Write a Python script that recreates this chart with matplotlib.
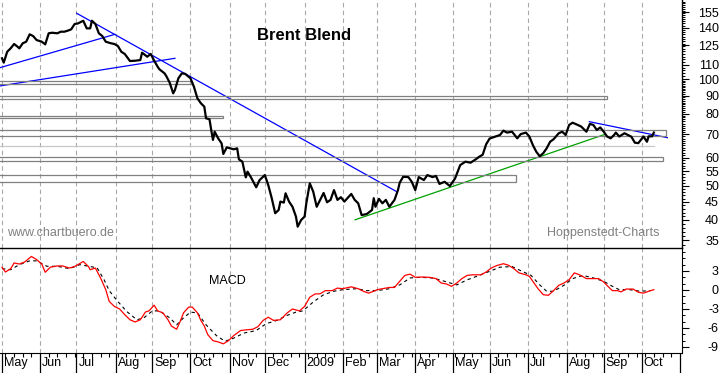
import numpy as np
import pandas as pd
import matplotlib
matplotlib.use("Agg")
import matplotlib.pyplot as plt
import matplotlib.transforms as mtransforms
from matplotlib.patches import Rectangle
from matplotlib.ticker import FixedLocator, NullFormatter, FuncFormatter

plt.rcParams['font.family'] = ['Liberation Sans', 'DejaVu Sans']

## trading day axis May 2008 - Oct 2009
days = pd.bdate_range('2008-05-01', '2009-10-30')
month_labels = ['May', 'Jun', 'Jul', 'Aug', 'Sep', 'Oct', 'Nov', 'Dec', '2009', 'Feb',
                'Mar', 'Apr', 'May', 'Jun', 'Jul', 'Aug', 'Sep', 'Oct']

## Brent price (USD), trading day index -> close
price_day = [0, 1, 3, 5, 7, 9, 10, 12, 14, 16, 18, 20, 23, 25, 27, 29, 32, 34, 36, 38,
             40, 42, 44, 47, 49, 51, 52, 54, 56, 58, 60, 63, 65, 67, 69, 71, 74, 77, 80, 81,
             84, 86, 88, 90, 91, 94, 95, 97, 99, 100, 102, 104, 106, 109, 111, 113, 115, 117, 118, 120,
             121, 122, 123, 125, 127, 128, 130, 132, 134, 136, 137, 139, 141, 142, 144, 147, 149, 152, 154, 156,
             158, 160, 161, 163, 164, 166, 168, 170, 171, 173, 175, 176, 178, 180, 182, 184, 186, 188, 190, 192,
             194, 196, 198, 202, 204, 206, 208, 211, 214, 215, 216, 218, 220, 222, 224, 227, 229, 230, 232, 235,
             237, 239, 241, 244, 246, 249, 251, 253, 256, 259, 262, 265, 268, 271, 274, 276, 278, 280, 282, 285,
             288, 290, 292, 295, 298, 300, 303, 305, 307, 309, 311, 313, 315, 317, 319, 322, 324, 326, 328, 330,
             333, 335, 338, 340, 342, 344, 346, 348, 350, 352, 354, 355, 357, 360, 362, 364, 366, 368, 371, 373,
             374, 376, 377]
price_val = [114.7, 111.5, 119.7, 122.4, 125.9, 123.7, 122.4, 126.5, 127.8, 134.1, 132.6, 129.2, 127.8, 125.6, 135.0, 135.5, 135.0, 136.4, 136.4, 137.3,
             138.5, 143.4, 144.0, 146.5, 139.4, 139.4, 146.5, 143.4, 135.0, 132.6, 127.8, 126.5, 125.9, 124.3, 119.7, 118.0, 112.7, 112.9, 113.4, 119.0,
             115.9, 118.0, 113.0, 108.6, 106.8, 104.0, 102.2, 97.8, 91.3, 93.3, 100.7, 104.0, 103.6, 100.7, 95.3, 88.4, 85.6, 83.7, 77.6, 77.1,
             71.9, 67.4, 71.1, 68.1, 65.9, 61.5, 64.2, 63.8, 63.4, 63.8, 59.4, 58.5, 52.8, 54.8, 52.8, 49.5, 51.9, 53.6, 50.2, 46.1,
             41.8, 42.7, 45.1, 44.8, 47.6, 45.1, 43.6, 40.9, 38.3, 40.0, 40.9, 44.6, 50.8, 48.1, 43.6, 45.6, 47.7, 44.9, 45.6, 48.6,
             45.6, 46.4, 45.1, 47.4, 45.6, 44.6, 41.3, 41.6, 42.7, 46.1, 43.6, 45.9, 44.6, 45.6, 43.6, 45.6, 48.6, 51.0, 53.0, 52.9,
             51.3, 48.6, 52.9, 51.9, 53.6, 52.9, 53.3, 50.6, 51.3, 49.9, 52.4, 57.2, 58.5, 58.1, 59.4, 60.4, 61.2, 65.5, 68.0, 68.8,
             69.6, 71.6, 70.7, 71.1, 68.1, 70.0, 70.7, 68.9, 65.2, 62.4, 60.6, 61.8, 63.8, 66.6, 67.7, 70.4, 71.1, 69.6, 74.3, 75.4,
             74.3, 73.5, 71.1, 74.8, 74.3, 71.9, 73.1, 71.1, 68.9, 68.1, 69.6, 70.7, 68.9, 70.4, 69.6, 68.8, 66.2, 66.0, 68.9, 66.6,
             69.0, 69.0, 70.7]

## MACD line (red)
macd_day = [0, 2, 5, 7, 10, 13, 17, 20, 23, 25, 28, 32, 35, 39, 42, 47, 50, 51, 54, 57,
            60, 62, 65, 68, 71, 74, 77, 80, 83, 85, 88, 90, 93, 96, 98, 101, 103, 105, 108, 110,
            113, 115, 117, 119, 122, 125, 128, 131, 134, 138, 141, 145, 148, 151, 154, 157, 161, 165, 168, 172,
            175, 178, 181, 184, 187, 191, 194, 197, 202, 206, 209, 212, 215, 217, 220, 224, 227, 230, 233, 236,
            239, 243, 247, 251, 254, 257, 260, 263, 266, 269, 272, 277, 280, 283, 286, 290, 293, 296, 299, 303,
            305, 307, 310, 313, 316, 319, 322, 325, 328, 331, 334, 338, 342, 345, 348, 351, 353, 356, 358, 361,
            365, 368, 371, 374, 377]
macd_val = [3.58, 2.84, 3.36, 4.27, 4.1, 4.4, 5.3, 4.8, 4.1, 2.8, 3.6, 3.8, 3.8, 3.47, 3.7, 4.5, 3.7, 3.2, 3.47, 1.9,
            0.05, -1.8, -2.6, -3.0, -3.9, -4.7, -5.05, -4.7, -3.47, -3.3, -2.4, -3.3, -3.6, -4.7, -5.7, -6.2, -5.0, -3.6, -2.7, -2.7,
            -3.6, -4.8, -5.7, -7.05, -8.0, -8.2, -8.5, -8.0, -7.2, -6.4, -6.3, -6.2, -5.8, -4.8, -4.3, -4.8, -4.7, -3.6, -3.0, -3.3,
            -2.6, -1.15, -0.63, -0.6, -0.1, -0.1, 0.3, 0.2, 0.5, 0.2, -0.2, -0.5, -0.2, 0.05, 0.2, 0.4, 0.4, 1.37, 2.3, 2.5,
            2.0, 2.05, 2.0, 1.8, 1.1, 0.95, 0.58, 1.1, 1.8, 2.3, 2.4, 2.4, 2.84, 3.47, 3.85, 4.15, 3.9, 3.37, 2.7, 2.4,
            2.15, 1.37, 0.2, -0.74, -0.84, -0.1, 0.74, 1.1, 1.63, 2.7, 2.4, 1.8, 1.8, 1.8, 1.26, 0.42, -0.1, -0.1, -0.3, 0.15,
            0.15, -0.35, -0.5, -0.2, 0.05]

## signal line (black dashed)
sig_day = [0, 5, 10, 16, 20, 26, 32, 39, 45, 51, 55, 59, 62, 66, 72, 78, 82, 87, 91, 97,
           101, 105, 109, 113, 118, 124, 129, 134, 140, 147, 153, 159, 165, 170, 174, 180, 186, 192, 197, 205,
           211, 217, 224, 230, 236, 242, 249, 256, 263, 269, 276, 282, 288, 295, 300, 306, 311, 315, 319, 325,
           330, 336, 342, 348, 353, 357, 363, 369, 375]
sig_val = [3.37, 3.2, 4.0, 4.6, 4.6, 3.74, 3.74, 3.37, 4.0, 3.7, 3.5, 1.63, -0.1, -1.5, -3.37, -4.7, -4.4, -3.3, -3.3, -4.4,
           -5.5, -4.4, -3.5, -3.6, -5.5, -7.2, -8.1, -7.6, -6.8, -6.4, -5.3, -4.8, -4.0, -3.5, -3.3, -1.9, -0.74, -0.2, 0.05, 0.2,
           -0.1, -0.1, 0.2, 0.8, 1.9, 2.0, 1.9, 1.37, 0.8, 1.6, 2.3, 2.95, 3.6, 3.7, 3.05, 2.3, 0.8, -0.2, -0.2, 0.74,
           1.8, 2.3, 1.9, 1.37, 0.58, 0.05, 0.05, -0.2, -0.1]

## support / resistance zones (price low, price high, last trading day)
zone_lo = [96.8, 88.0, 77.6, 69.1, 58.6, 51.2]
zone_hi = [98.9, 89.9, 78.6, 71.9, 60.2, 53.5]
zone_end = [110, 350, 128, 384, 382, 297]
light_level = 64.8
light_end = 377

## trend lines: (day, price) -> (day, price)
trend_d0 = [-1.2, -1.2, 43.2, 339.7, 204.2]
trend_p0 = [107.9, 95.8, 153.8, 75.9, 40.05]
trend_d1 = [65.3, 100.0, 228.3, 384.8, 348.8]
trend_p1 = [134.1, 114.7, 48.1, 68.4, 69.9]
trend_col = ['#0000ff', '#0000ff', '#0000ff', '#0000ff', '#00a000']

price_ticks = [35, 40, 45, 50, 55, 60, 70, 80, 90, 100, 110, 125, 140, 155]
macd_ticks = [3, 0, -3, -6, -9]

W, H = 723, 373
fig = plt.figure(figsize=(W / 100, H / 100), dpi=100)
ax1 = fig.add_axes([0, 125 / H, 681.7 / W, 248 / H])
ax2 = fig.add_axes([0, 20 / H, 681.7 / W, 105 / H], sharex=ax1)

month_idx = [i for i in range(len(days)) if i == 0 or days[i].month != days[i - 1].month]
week_idx = [i for i in range(len(days)) if days[i].weekday() == 0]
xlim = (-1.16, 393.1)

grid_kw = dict(color='#a8a8a8', lw=0.8, ls=(0, (4, 3)), zorder=0)

## top panel
for x0, lo, hi, x1 in zip([-5] * len(zone_lo), zone_lo, zone_hi, zone_end):
    ax1.add_patch(Rectangle((x0, lo), x1 - x0, hi - lo, fill=False,
                            edgecolor='#808080', lw=0.9, zorder=3))
ax1.plot([-5, light_end], [light_level, light_level], color='#c8c8c8', lw=0.9, zorder=2)
for m in month_idx:
    ax1.axvline(m, **grid_kw)
    ax2.axvline(m, **grid_kw)
for d0, p0, d1, p1, c in zip(trend_d0, trend_p0, trend_d1, trend_p1, trend_col):
    ax1.plot([d0, d1], [p0, p1], color=c, lw=0.9, zorder=2)
ax1.plot(price_day, price_val, color='black', lw=1.6, zorder=4, solid_joinstyle='round')

ax1.set_yscale('log')
ax1.set_ylim(33.33, 167.7)
ax1.set_xlim(*xlim)
ax1.yaxis.tick_right()
ax1.yaxis.set_major_locator(FixedLocator(price_ticks))
ax1.yaxis.set_major_formatter(FuncFormatter(lambda v, p: f'{v:.0f}'))
ax1.yaxis.set_minor_locator(FixedLocator(list(range(34, 100)) + list(range(100, 168, 2))))
ax1.yaxis.set_minor_formatter(NullFormatter())
ax1.tick_params(axis='y', which='major', length=4.8, width=0.8, pad=22, labelsize=9)
ax1.tick_params(axis='y', which='minor', length=2.4, width=0.7)
ax1.tick_params(axis='x', which='both', bottom=False, labelbottom=False)
for lbl in ax1.get_yticklabels():
    lbl.set_ha('right')
for s in ['top', 'left', 'bottom']:
    ax1.spines[s].set_visible(False)
ax1.spines['right'].set_linewidth(1.0)

fig.text(304 / W, 1 - 35 / H, 'Brent Blend', fontsize=12, fontweight='bold', ha='center', va='center')
fig.text(7 / W, 1 - 233 / H, 'www.chartbuero.de', fontsize=9, color='#808080', ha='left', va='center')
fig.text(659 / W, 1 - 233 / H, 'Hoppenstedt-Charts', fontsize=9, color='#808080', ha='right', va='center')

## MACD panel
ax2.plot(sig_day, sig_val, color='black', lw=0.8, ls=(0, (3, 3)), zorder=3)
ax2.plot(macd_day, macd_val, color='#ff0000', lw=0.9, zorder=4)
ax2.set_ylim(-9.95, 6.63)
ax2.yaxis.tick_right()
ax2.yaxis.set_major_locator(FixedLocator(macd_ticks))
ax2.yaxis.set_major_formatter(FuncFormatter(lambda v, p: f'{v:.0f}'))
ax2.yaxis.set_minor_locator(FixedLocator(list(range(-9, 7))))
ax2.yaxis.set_minor_formatter(NullFormatter())
ax2.tick_params(axis='y', which='major', length=4.8, width=0.8, pad=22, labelsize=9)
ax2.tick_params(axis='y', which='minor', length=2.4, width=0.7)
for lbl in ax2.get_yticklabels():
    lbl.set_ha('right')
ax2.spines['left'].set_visible(False)
ax2.spines['top'].set_linewidth(1.0)
ax2.text(227 / 681.7, (353 - 281.3) / 105, 'MACD', transform=ax2.transAxes,
         fontsize=9, ha='center', va='center')

## month axis
ax2.xaxis.set_major_locator(FixedLocator(month_idx + [len(days)]))
ax2.xaxis.set_minor_locator(FixedLocator(week_idx))
ax2.xaxis.set_major_formatter(NullFormatter())
ax2.tick_params(axis='x', which='major', length=14.4, width=0.9, direction='out')
ax2.tick_params(axis='x', which='minor', length=3, width=0.8, direction='out')
ax2.set_xlim(*xlim)
trans = mtransforms.blended_transform_factory(ax2.transData, ax2.transAxes) + \
    mtransforms.ScaledTranslation(2 / 100, 0, fig.dpi_scale_trans)
for m, lab in zip(month_idx, month_labels):
    ax2.text(m, -10 / 105, lab, transform=trans, fontsize=9, ha='left', va='center')

fig.savefig('out.png', dpi=100)
